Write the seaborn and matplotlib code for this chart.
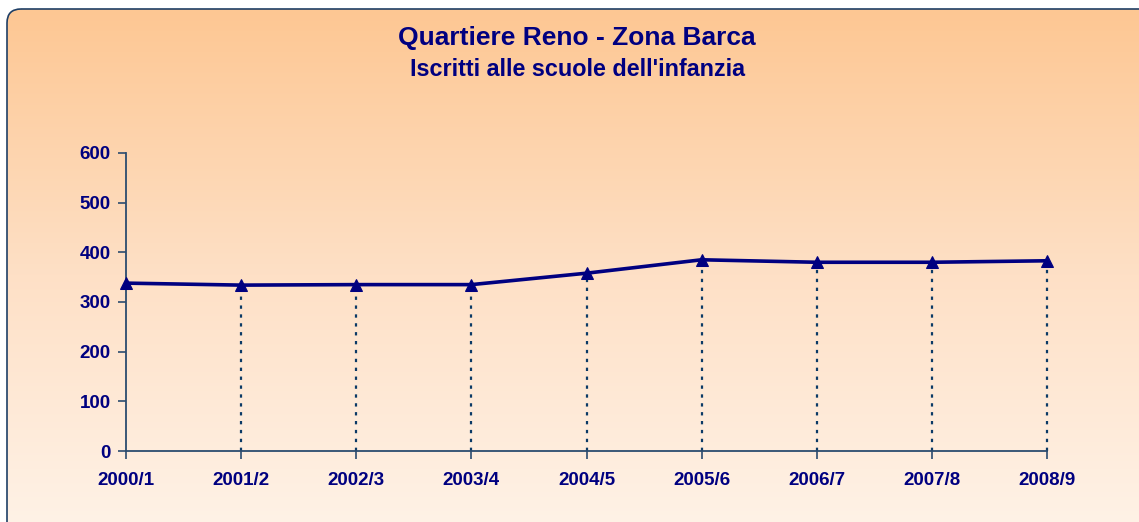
import matplotlib
matplotlib.use('Agg')
import matplotlib.pyplot as plt
from matplotlib.patches import FancyBboxPatch
from matplotlib.colors import LinearSegmentedColormap
import seaborn as sns
import numpy as np
import pandas as pd

# data
anni = ['2000/1', '2001/2', '2002/3', '2003/4', '2004/5',
        '2005/6', '2006/7', '2007/8', '2008/9']
iscritti = [338, 334, 335, 335, 358, 385, 380, 380, 383]
y_ticks = [0, 100, 200, 300, 400, 500, 600]

NAVY = '#000080'
SPINE = '#2B4C6F'

sns.set_theme(style='white')
plt.rcParams['font.family'] = ['Liberation Sans', 'DejaVu Sans']

fig = plt.figure(figsize=(11.39, 5.22), dpi=100)

# background panel with gradient and rounded border (runs off the right and bottom edges)
bg = fig.add_axes([0, 0, 1, 1], zorder=0)
bg.set_xlim(0, 1139)
bg.set_ylim(522, 0)
bg.axis('off')
cmap = LinearSegmentedColormap.from_list('peach', ['#FDC793', '#FEE0C6', '#FFF3E8'])
grad = np.linspace(0, 1, 256).reshape(-1, 1)
img = bg.imshow(grad, cmap=cmap, aspect='auto', extent=(7, 1160, 540, 9))
panel = FancyBboxPatch((7, 9), 1160, 531, boxstyle='round,pad=0,rounding_size=14',
                       facecolor='none', edgecolor='#1F3F66', linewidth=1.2)
bg.add_patch(panel)
img.set_clip_path(panel)

title_x = 577 / 1139
fig.text(title_x, 1 - 38 / 522, 'Quartiere Reno - Zona Barca', ha='center', va='center',
         fontsize=19, fontweight='bold', color=NAVY)
fig.text(title_x, 1 - 69 / 522, "Iscritti alle scuole dell'infanzia", ha='center', va='center',
         fontsize=16.8, fontweight='bold', color=NAVY)

ax = fig.add_axes([126 / 1139, 1 - 451 / 522, (1047 - 126) / 1139, (451 - 153) / 522], zorder=1)
ax.set_facecolor('none')

df = pd.DataFrame({'anno': anni, 'iscritti': iscritti})
pos = np.arange(len(anni))

# dotted drop lines
ax.vlines(pos[1:], 0, df['iscritti'][1:], colors='#0B3A66', linestyles=(0, (1.5, 2.5)),
          linewidth=1.6, zorder=2, clip_on=False)

sns.lineplot(data=df, x='anno', y='iscritti', ax=ax, color=NAVY, linewidth=2.6,
             marker='^', markersize=8, markeredgecolor=NAVY, markerfacecolor=NAVY,
             zorder=3, clip_on=False, sort=False)

ax.set_xlim(0, len(anni) - 1)
ax.set_ylim(0, 600)
ax.set_yticks(y_ticks)
ax.set_xticks(pos)
ax.set_xticklabels(anni)
ax.set_xlabel('')
ax.set_ylabel('')
ax.grid(False)

for side in ['top', 'right']:
    ax.spines[side].set_visible(False)
for side in ['left', 'bottom']:
    ax.spines[side].set_color(SPINE)
    ax.spines[side].set_linewidth(1.3)

ax.tick_params(axis='both', which='major', direction='out', length=6, width=1.2,
               color=SPINE, labelcolor=NAVY, labelsize=13.5, bottom=True, left=True)
ax.tick_params(axis='y', pad=5)
ax.tick_params(axis='x', pad=9)
for lab in ax.get_xticklabels() + ax.get_yticklabels():
    lab.set_fontweight('bold')

fig.savefig('out.png', dpi=100)
